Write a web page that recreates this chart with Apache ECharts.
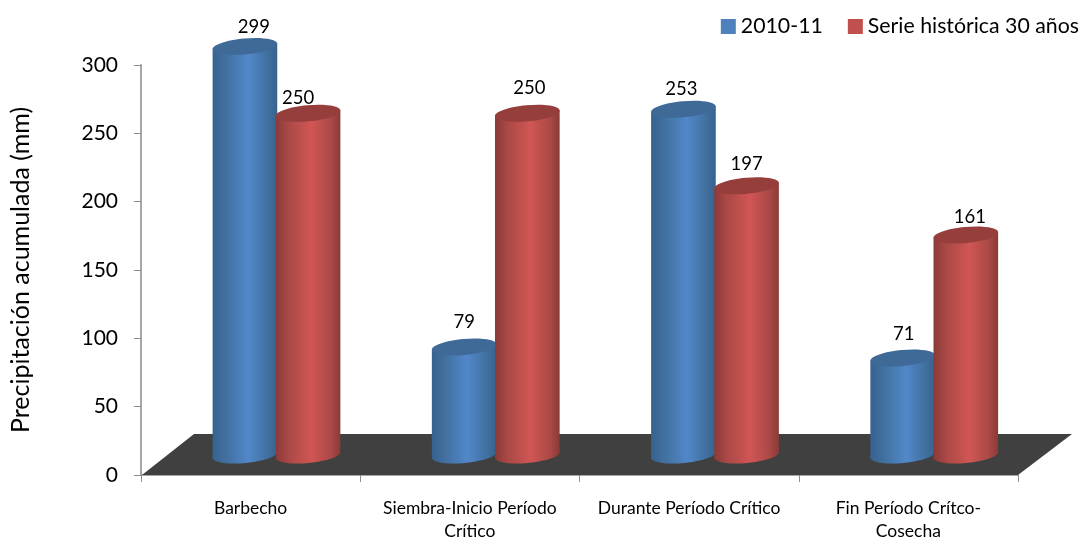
<!DOCTYPE html>
<html><head><meta charset="utf-8">
<style>html,body{margin:0;padding:0;background:#fff}#c{width:1081px;height:538px}</style>
<script src="https://cdn.jsdelivr.net/npm/echarts@6/dist/echarts.min.js"></script>
</head><body><div id="c"></div>
<script>
const categories = ['Barbecho', 'Siembra-Inicio Período\nCrítico', 'Durante Período Crítico', 'Fin Período Crítco-\nCosecha'];
const serie2010 = [299, 79, 253, 71];
const serieHistorica = [250, 250, 197, 161];
const yTicks = [0, 300, 50];

// Layout-only tweaks for the hand-placed value labels (dx, dy in px, relative to the cylinder top)
const nudge2010 = [[9, -19], [0, -25], [-2, -20], [1, -24]];
const nudgeHist = [[-10, -15], [2, -25], [0, -22], [4, -18]];

const FONT = 'Lato, "Open Sans", sans-serif';
const chart = echarts.init(document.getElementById('c'), null, {renderer: 'canvas'});

function grad(pal) {
  return new echarts.graphic.LinearGradient(0, 0, 1, 0, [
    {offset: 0, color: pal[0]}, {offset: 0.2, color: pal[1]},
    {offset: 0.55, color: pal[2]}, {offset: 0.85, color: pal[1]},
    {offset: 1, color: pal[0]}
  ]);
}

function cylinder(frac, pal, nudge) {
  return function (params, api) {
    const i = api.value(0), v = api.value(1);
    const band = api.size([1, 0])[0];
    const rx = band * 0.148, ry = 8, lift = 20, tilt = 0.09;
    const base = api.coord([i, 0]), top = api.coord([i, v]);
    const cx = base[0] + band * frac;
    const yB = base[1] - lift, yT = top[1] - lift;
    const dy = Math.sin(tilt) * rx, dx = Math.cos(tilt) * rx;
    const fill = grad(pal);
    const n = nudge[i];
    return {type: 'group', children: [
      {type: 'ellipse', x: cx, y: yB, rotation: tilt, shape: {cx: 0, cy: 0, rx: rx, ry: ry}, style: {fill: fill}},
      {type: 'polygon', shape: {points: [[cx - dx, yT + dy], [cx + dx, yT - dy], [cx + dx, yB - dy], [cx - dx, yB + dy]]}, style: {fill: fill}},
      {type: 'ellipse', x: cx, y: yT, rotation: tilt, shape: {cx: 0, cy: 0, rx: rx, ry: ry}, style: {fill: pal[3]}},
      {type: 'text', x: cx + n[0], y: yT + n[1], style: {text: String(v), x: 0, y: 0, align: 'center', verticalAlign: 'middle', fill: '#000', font: '18.5px ' + FONT}}
    ]};
  };
}

function floor(params, api) {
  const g = params.coordSys, x0 = g.x, x1 = g.x + g.width, y0 = g.y + g.height;
  return {type: 'polygon', silent: true, shape: {points: [[x0 + 1, y0], [x0 + 53, y0 - 41], [x1 + 54, y0 - 41], [x1, y0]]}, style: {fill: '#404040'}};
}

const palBlue = ['#36628f', '#41709f', '#5288ca', '#3f6a98'];
const palRed = ['#8a3a38', '#ab4946', '#d05654', '#963e3b'];

chart.setOption({
  animation: false,
  backgroundColor: '#fff',
  textStyle: {fontFamily: FONT},
  legend: {
    top: 16, right: 2, padding: 0, itemWidth: 15, itemHeight: 15, itemGap: 25,
    icon: 'rect', selectedMode: false,
    textStyle: {fontSize: 21.3, color: '#000', fontFamily: FONT},
    data: [{name: '2010-11', itemStyle: {color: '#4f81bd'}}, {name: 'Serie histórica 30 años', itemStyle: {color: '#c0504d'}}]
  },
  grid: {left: 141, right: 63, top: 65, bottom: 63, containLabel: false, outerBoundsMode: 'none'},
  xAxis: {
    type: 'category', data: categories, boundaryGap: true,
    axisLine: {lineStyle: {color: '#a6a6a6', width: 2}},
    axisTick: {show: true, length: 7, alignWithLabel: false, lineStyle: {color: '#8c8c8c'}},
    axisLabel: {fontSize: 17.5, color: '#000', margin: 22, lineHeight: 23, fontFamily: FONT, interval: 0}
  },
  yAxis: {
    type: 'value', min: yTicks[0], max: yTicks[1], interval: yTicks[2],
    name: 'Precipitación acumulada (mm)', nameLocation: 'middle', nameGap: 108, nameRotate: 90,
    nameTextStyle: {fontSize: 25, color: '#000', fontFamily: FONT},
    axisLine: {show: true, lineStyle: {color: '#a6a6a6', width: 2}},
    axisTick: {show: true, length: 7, lineStyle: {color: '#8c8c8c'}},
    axisLabel: {fontSize: 21, color: '#000', margin: 23, fontFamily: FONT, padding: [2, 0, 0, 0]},
    splitLine: {show: false}
  },
  series: [
    {type: 'custom', name: 'floor', renderItem: floor, data: [[0, 0]], silent: true, clip: false, z: 1},
    {type: 'custom', name: '2010-11', renderItem: cylinder(-0.026, palBlue, nudge2010), data: serie2010.map((v, i) => [i, v]), clip: false, z: 2, itemStyle: {color: '#4f81bd'}},
    {type: 'custom', name: 'Serie histórica 30 años', renderItem: cylinder(0.262, palRed, nudgeHist), data: serieHistorica.map((v, i) => [i, v]), clip: false, z: 3, itemStyle: {color: '#c0504d'}}
  ]
});
</script></body></html>
